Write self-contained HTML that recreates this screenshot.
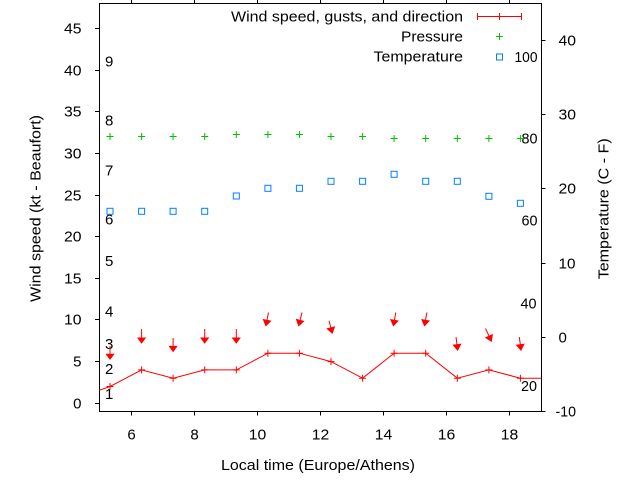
<!DOCTYPE html>
<html><head><meta charset="utf-8"><style>
html,body{margin:0;padding:0;background:#fff;}
svg{display:block;}
text{font-family:"Liberation Sans",Arial,sans-serif;font-size:15px;fill:#000;}
</style></head><body>
<svg width="640" height="480" viewBox="0 0 640 480" xmlns="http://www.w3.org/2000/svg">
<rect x="0" y="0" width="640" height="480" fill="#fff"/>
<!-- frame -->
<rect x="99.5" y="3.5" width="442" height="408" fill="none" stroke="#000" stroke-width="1"/>
<!-- x ticks bottom & top -->
<g stroke="#000" stroke-width="1">
<path d="M131.5 411.5V415.5M194.5 411.5V415.5M257.5 411.5V415.5M320.5 411.5V415.5M383.5 411.5V415.5M446.5 411.5V415.5M509.5 411.5V415.5"/>
<path d="M131.5 3.5V-0.5M194.5 3.5V-0.5M257.5 3.5V-0.5M320.5 3.5V-0.5M383.5 3.5V-0.5M446.5 3.5V-0.5M509.5 3.5V-0.5"/>
<!-- left ticks -->
<path d="M95 403.5H99.5M95 361.5H99.5M95 319.5H99.5M95 278.5H99.5M95 236.5H99.5M95 195.5H99.5M95 153.5H99.5M95 111.5H99.5M95 70.5H99.5M95 28.5H99.5"/>
<!-- right ticks -->
<path d="M541.5 40.5H545.5M541.5 114.5H545.5M541.5 188.5H545.5M541.5 263.5H545.5M541.5 337.5H545.5M541.5 411.5H545.5"/>
</g>
<!-- left tick labels -->
<g text-anchor="end">
<text x="81.5" y="408.5">0</text>
<text x="81.5" y="366.5">5</text>
<text x="81.5" y="324.5" textLength="17.5" lengthAdjust="spacingAndGlyphs">10</text>
<text x="81.5" y="283.5" textLength="17.5" lengthAdjust="spacingAndGlyphs">15</text>
<text x="81.5" y="241.5" textLength="17.5" lengthAdjust="spacingAndGlyphs">20</text>
<text x="81.5" y="200.5" textLength="17.5" lengthAdjust="spacingAndGlyphs">25</text>
<text x="81.5" y="158.5" textLength="17.5" lengthAdjust="spacingAndGlyphs">30</text>
<text x="81.5" y="116.5" textLength="17.5" lengthAdjust="spacingAndGlyphs">35</text>
<text x="81.5" y="75.5" textLength="17.5" lengthAdjust="spacingAndGlyphs">40</text>
<text x="81.5" y="33.5" textLength="17.5" lengthAdjust="spacingAndGlyphs">45</text>
</g>
<!-- right tick labels -->
<g>
<text x="558.5" y="45.5" textLength="17.5" lengthAdjust="spacingAndGlyphs">40</text>
<text x="558.5" y="119.5" textLength="17.5" lengthAdjust="spacingAndGlyphs">30</text>
<text x="558.5" y="193.5" textLength="17.5" lengthAdjust="spacingAndGlyphs">20</text>
<text x="558.5" y="268.5" textLength="17" lengthAdjust="spacingAndGlyphs">10</text>
<text x="558.5" y="342.5">0</text>
<text x="555.5" y="416.5" textLength="20.5" lengthAdjust="spacingAndGlyphs">-10</text>
</g>
<!-- x tick labels -->
<g text-anchor="middle">
<text x="131.5" y="439.5">6</text>
<text x="194.5" y="439.5">8</text>
<text x="257.5" y="439.5" textLength="17.5" lengthAdjust="spacingAndGlyphs">10</text>
<text x="320.5" y="439.5" textLength="17.5" lengthAdjust="spacingAndGlyphs">12</text>
<text x="383.5" y="439.5" textLength="17.5" lengthAdjust="spacingAndGlyphs">14</text>
<text x="446.5" y="439.5" textLength="17.5" lengthAdjust="spacingAndGlyphs">16</text>
<text x="509.5" y="439.5" textLength="17.5" lengthAdjust="spacingAndGlyphs">18</text>
</g>
<!-- axis labels -->
<text x="221" y="470" textLength="194" lengthAdjust="spacingAndGlyphs">Local time (Europe/Athens)</text>
<text transform="translate(40.5,208.5) rotate(-90)" text-anchor="middle" textLength="187" lengthAdjust="spacingAndGlyphs">Wind speed (kt - Beaufort)</text>
<text transform="translate(608.5,208.8) rotate(-90)" text-anchor="middle" textLength="141" lengthAdjust="spacingAndGlyphs">Temperature (C - F)</text>
<!-- Beaufort labels -->
<g>
<text x="105" y="66.5">9</text>
<text x="105" y="125.5">8</text>
<text x="105" y="175.5">7</text>
<text x="105" y="224.5">6</text>
<text x="105" y="266">5</text>
<text x="105" y="316.5">4</text>
<text x="105" y="349">3</text>
<text x="105" y="374">2</text>
<text x="105" y="399">1</text>
</g>
<!-- Fahrenheit labels -->
<g text-anchor="end">
<text x="537.5" y="62" textLength="23" lengthAdjust="spacingAndGlyphs">100</text>
<text x="537.5" y="143.5" textLength="16" lengthAdjust="spacingAndGlyphs">80</text>
<text x="537.5" y="225.5" textLength="16" lengthAdjust="spacingAndGlyphs">60</text>
<text x="536.5" y="308.5" textLength="16" lengthAdjust="spacingAndGlyphs">40</text>
<text x="537" y="391" textLength="16" lengthAdjust="spacingAndGlyphs">20</text>
</g>
<!-- legend -->
<text x="463" y="21.7" text-anchor="end" textLength="232" lengthAdjust="spacingAndGlyphs">Wind speed, gusts, and direction</text>
<text x="463" y="41.7" text-anchor="end" textLength="62" lengthAdjust="spacingAndGlyphs">Pressure</text>
<text x="463" y="61.7" text-anchor="end" textLength="89.5" lengthAdjust="spacingAndGlyphs">Temperature</text>
<g stroke="#ff0000" stroke-width="1" fill="none">
<path d="M477.5 16.5H521.5M477.5 13V20M521.5 13V20M499.5 13V20"/>
</g>
<g stroke="#00c000" stroke-width="1">
<path d="M496 36.5H503M499.5 33V40"/>
</g>
<rect x="496.5" y="54" width="6" height="6" fill="none" stroke="#0080ff" stroke-width="1"/>

<!-- Pressure -->
<g stroke="#00c000" stroke-width="1">
<path d="M106.5 136.5h7M110 133v7
M138.1 136.5h7M141.6 133v7
M169.6 136.5h7M173.1 133v7
M201.2 136.5h7M204.7 133v7
M232.8 134.5h7M236.3 131v7
M264.4 134.5h7M267.9 131v7
M295.9 134.5h7M299.4 131v7
M327.5 136.5h7M331 133v7
M359.1 136.5h7M362.6 133v7
M390.6 138.5h7M394.1 135v7
M422.2 138.5h7M425.7 135v7
M453.8 138.5h7M457.3 135v7
M485.4 138.5h7M488.9 135v7
M516.9 138.5h7M520.4 135v7"/>
</g>
<!-- Temperature -->
<g fill="none" stroke="#0080ff" stroke-width="1">
<rect x="107" y="208.3" width="6" height="6"/>
<rect x="138.6" y="208.3" width="6" height="6"/>
<rect x="170.1" y="208.3" width="6" height="6"/>
<rect x="201.7" y="208.3" width="6" height="6"/>
<rect x="233.3" y="193" width="6" height="6"/>
<rect x="264.9" y="185.3" width="6" height="6"/>
<rect x="296.4" y="185.3" width="6" height="6"/>
<rect x="328" y="178.3" width="6" height="6"/>
<rect x="359.6" y="178.3" width="6" height="6"/>
<rect x="391.1" y="171.3" width="6" height="6"/>
<rect x="422.7" y="178.3" width="6" height="6"/>
<rect x="454.3" y="178.3" width="6" height="6"/>
<rect x="485.9" y="193.3" width="6" height="6"/>
<rect x="517.4" y="200.3" width="6" height="6"/>
</g>
<!-- Wind speed line -->
<polyline fill="none" stroke="#ff0000" stroke-width="1" points="99.5,390.2 110,386.5 141.6,369.9 173.1,378.2 204.7,369.9 236.3,369.9 267.9,353.2 299.4,353.2 331,361.6 362.6,378.2 394.1,353.2 425.7,353.2 457.3,378.2 488.9,369.9 520.4,378.2 541,378.2"/>
<g stroke="#ff0000" stroke-width="1">
<path d="M106.5 386.5h7M110 383v7
M138.1 369.9h7M141.6 366.4v7
M169.6 378.2h7M173.1 374.7v7
M201.2 369.9h7M204.7 366.4v7
M232.8 369.9h7M236.3 366.4v7
M264.4 353.2h7M267.9 349.7v7
M295.9 353.2h7M299.4 349.7v7
M327.5 361.6h7M331 358.1v7
M359.1 378.2h7M362.6 374.7v7
M390.6 353.2h7M394.1 349.7v7
M422.2 353.2h7M425.7 349.7v7
M453.8 378.2h7M457.3 374.7v7
M485.4 369.9h7M488.9 366.4v7
M516.9 378.2h7M520.4 374.7v7"/>
</g>
<!-- Wind direction arrows -->
<g stroke="#ff0000" stroke-width="1" fill="none">
<path d="M110 346V354M141.6 329V338M173.1 338V346.5M204.7 329V338M236.3 329V338
M268.5 312.5L267 320M302 312.5L300.1 320M329 320.7L330.8 327.7M395.8 312.5L394.4 320M426.9 312.5L425.5 320M456 337L457 344.5M485.5 328.5L489 336M519.3 337L520.3 344.5"/>
</g>
<g fill="#ff0000" stroke="#ff0000" stroke-width="0.6">
<polygon points="110,359.5 106,354 114,354"/>
<polygon points="141.6,343.3 137.6,337.8 145.6,337.8"/>
<polygon points="173.1,351.7 169.1,346.2 177.1,346.2"/>
<polygon points="204.7,343.3 200.7,337.8 208.7,337.8"/>
<polygon points="236.3,343.3 232.3,337.8 240.3,337.8"/>
<polygon points="265.8,326 270.9,320.9 263.1,319.3"/>
<polygon points="298.6,326 303.9,321.2 296.2,319.2"/>
<polygon points="332.3,333.5 334.7,326.7 326.9,328.7"/>
<polygon points="393.3,326 398.3,320.8 390.5,319.4"/>
<polygon points="424.4,326 429.4,320.8 421.6,319.4"/>
<polygon points="457.7,350.5 460.9,344 453,345"/>
<polygon points="491.5,341.5 492.6,334.4 485.4,337.7"/>
<polygon points="521,350.5 524.2,344 516.3,345"/>
</g>
</svg>
</body></html>
